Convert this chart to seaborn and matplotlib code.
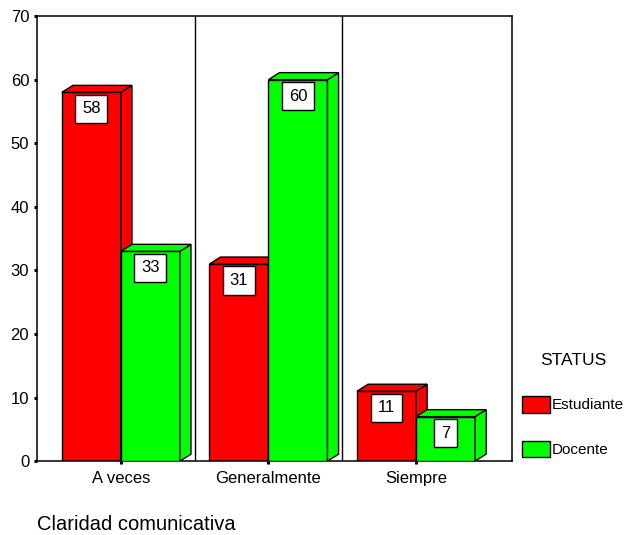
import pandas as pd
import matplotlib
matplotlib.use("Agg")
import matplotlib.pyplot as plt
from matplotlib.patches import Polygon, Patch
import seaborn as sns

# --- Data ---
categories = ["A veces", "Generalmente", "Siempre"]
groups = ["Estudiante", "Docente"]
estudiante = [58, 31, 11]
docente = [33, 60, 7]
colors = {"Estudiante": "#ff0000", "Docente": "#00ff00"}

df = pd.DataFrame({
    "categoria": categories * 2,
    "status": ["Estudiante"] * len(categories) + ["Docente"] * len(categories),
    "valor": estudiante + docente,
})

sns.set_style("white")
plt.rcParams["font.family"] = ["Liberation Sans", "DejaVu Sans"]
plt.rcParams["text.color"] = "black"

fig = plt.figure(figsize=(6.28, 5.35), dpi=100)
ax = fig.add_axes([0.059, 0.138, 0.756, 0.832])

sns.barplot(
    data=df, x="categoria", y="valor", hue="status",
    order=categories, hue_order=groups, palette=colors,
    width=0.8, saturation=1, errorbar=None, legend=False,
    edgecolor="black", linewidth=1, ax=ax,
)

# --- fake 3D faces (side + top) for each bar ---
dx, dy = 0.075, 1.1
values = {"Estudiante": estudiante, "Docente": docente}
for i, (cont, grp) in enumerate(zip(ax.containers, groups)):
    z = 2 + i
    for bar, val in zip(cont, values[grp]):
        bar.set_zorder(z)
        x, w, h = bar.get_x(), bar.get_width(), bar.get_height()
        fc = bar.get_facecolor()
        side = Polygon([(x + w, 0), (x + w + dx, dy), (x + w + dx, h + dy), (x + w, h)],
                       closed=True, fc=fc, ec="black", lw=1, zorder=z)
        top = Polygon([(x, h), (x + dx, h + dy), (x + w + dx, h + dy), (x + w, h)],
                      closed=True, fc=fc, ec="black", lw=1, zorder=z)
        ax.add_patch(side)
        ax.add_patch(top)
        ax.annotate(f"{val}", xy=(x + w / 2, h), xytext=(0, -6.5),
                    textcoords="offset points", ha="center", va="top",
                    fontsize=12, zorder=z + 0.5,
                    bbox=dict(boxstyle="square,pad=0.4", fc="white", ec="black", lw=1))

# category separators
for sep in [0.5, 1.5]:
    ax.axvline(sep, color="black", lw=1, zorder=1)

ax.set_xlim(-0.568, 2.649)
ax.set_ylim(0, 70)
ax.set_yticks(range(0, 71, 10))
ax.set_xlabel("")
ax.set_ylabel("")
ax.tick_params(axis="both", direction="out", length=2.2, width=2.2, colors="black",
               labelsize=12, bottom=True, left=True)
ax.tick_params(axis="y", pad=3.5)
ax.tick_params(axis="x", pad=5)
for sp in ax.spines.values():
    sp.set_visible(True)
    sp.set_color("black")
    sp.set_linewidth(1.1)

fig.text(37 / 628, 1 - 525 / 535, "Claridad comunicativa", fontsize=14.5,
         ha="left", va="center")

handles = [Patch(fc=colors[g], ec="black", lw=1) for g in groups]
leg = ax.legend(handles, groups, title="STATUS", loc="upper left",
                bbox_to_anchor=(522 / 628, 1 - 353 / 535), bbox_transform=fig.transFigure,
                frameon=False, fontsize=11, title_fontsize=12.5,
                handlelength=1.83, handleheight=1.31, handletextpad=0.13,
                labelspacing=1.83, borderpad=0, borderaxespad=0)

fig.savefig("out.png", dpi=100)
